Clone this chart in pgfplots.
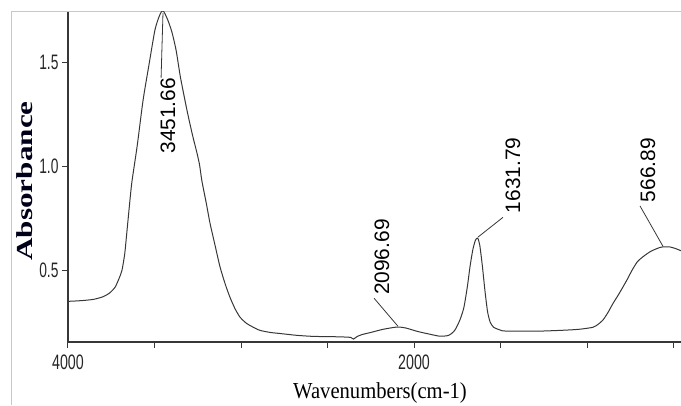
\documentclass[border=0pt]{standalone}
\usepackage{fontspec}
\setmainfont{Liberation Sans}
\newfontfamily\serifb{Liberation Serif}
\usepackage{pgfplots}
\pgfplotsset{compat=1.18}
\definecolor{axc}{RGB}{55,55,55}
\definecolor{frc}{RGB}{200,200,200}
\begin{document}
\begin{tikzpicture}[x=1bp,y=1bp]
\useasboundingbox (0,0) rectangle (681,405);
\draw[frc, line width=1bp] (11,0) -- (11,393) -- (681,393);
\begin{axis}[
  at={(68bp,63bp)}, anchor=south west,
  scale only axis, width=613bp, height=330bp,
  x dir=reverse,
  xmin=457, xmax=4000, ymin=0.154, ymax=1.745,
  axis x line*=bottom, axis y line*=left,
  axis line style={-, line width=2.2bp, color=axc},
  tick style={line width=1bp, color=axc},
  tick align=outside,
  major tick length=6bp,
  xtick={500,1000,1500,2000,2500,3000,3500,4000},
  xticklabels={,,,\scalebox{0.68}[1]{2000},,,,\scalebox{0.68}[1]{4000}},
  ytick={0.5,1.0,1.5},
  yticklabels={\scalebox{0.66}[1]{0.5},\scalebox{0.66}[1]{1.0},\scalebox{0.66}[1]{1.5}},
  ticklabel style={font=\fontsize{21}{21}\selectfont, text=black!85},
  xticklabel style={yshift=-3bp},
  yticklabel style={xshift=0bp},
  xlabel={\scalebox{0.9}[1]{\serifb\fontsize{23}{23}\selectfont Wavenumbers(cm-1)}},
  xlabel style={at={(axis description cs:0.509,-0.155)}, anchor=center, inner sep=0pt},
  ylabel={\scalebox{1.36}[1]{\serifb\bfseries\fontsize{23}{23}\selectfont Absorbance}},
  ylabel style={at={(axis description cs:-0.0701,0.488)}, anchor=center, inner sep=0pt, rotate=0, text=black!90!blue},
  clip=true,
]
\addplot[color=axc, line width=1bp, smooth, tension=0.4] coordinates {
(4000,0.350) (3950,0.352) (3900,0.355) (3850,0.360) (3798,0.372) (3760,0.39)
(3728,0.418) (3705,0.46) (3688,0.50) (3672,0.58) (3659,0.69) (3642,0.837)
(3630,0.93) (3600,1.10)
(3566,1.32) (3530,1.50) (3497,1.66) (3470,1.73) (3451,1.752) (3425,1.71)
(3400,1.65) (3375,1.56) (3350,1.43) (3312,1.27) (3280,1.15) (3256,1.07)
(3240,1.01) (3226,0.93) (3200,0.82) (3179,0.726) (3150,0.62) (3121,0.515)
(3090,0.43) (3064,0.37) (3035,0.315) (3006,0.274) (2970,0.245) (2931,0.226)
(2890,0.21) (2830,0.2) (2775,0.195) (2676,0.186)
(2580,0.181) (2486,0.18) (2400,0.178) (2365,0.176) (2350,0.168) (2330,0.18)
(2300,0.19) (2250,0.2) (2180,0.215) (2100,0.226) (2050,0.222) (1980,0.205)
(1900,0.19) (1850,0.182) (1800,0.186) (1765,0.21) (1735,0.26) (1712,0.32)
(1692,0.42) (1676,0.52) (1660,0.60) (1645,0.645) (1632,0.655) (1620,0.62)
(1605,0.52) (1590,0.40) (1575,0.30) (1560,0.25) (1540,0.225) (1503,0.212)
(1474,0.207) (1300,0.206) (1156,0.21) (1050,0.215) (966,0.225) (935,0.24)
(908,0.26) (880,0.295) (850,0.34) (820,0.38) (792,0.42) (765,0.46)
(740,0.50) (710,0.54) (677,0.565) (630,0.592) (578,0.61) (550,0.613)
(520,0.612) (490,0.605) (463,0.596) (457,0.594)
};
\draw[axc, line width=0.8bp] (axis cs:3451,1.74) -- (axis cs:3462,1.428);
\draw[axc, line width=0.8bp] (axis cs:2231,0.365) -- (axis cs:2093,0.23);
\draw[axc, line width=0.8bp] (axis cs:1486,0.755) -- (axis cs:1630,0.66);
\draw[axc, line width=0.8bp] (axis cs:694,0.81) -- (axis cs:561,0.615);
\node[rotate=90, anchor=east, inner sep=0pt, font=\fontsize{21}{21}\selectfont] at (axis cs:3422,1.428) {3451.66};
\node[rotate=90, anchor=west, inner sep=0pt, font=\fontsize{21}{21}\selectfont] at (axis cs:2185,0.38) {2096.69};
\node[rotate=90, anchor=west, inner sep=0pt, font=\fontsize{21}{21}\selectfont] at (axis cs:1428,0.774) {1631.79};
\node[rotate=90, anchor=west, inner sep=0pt, font=\fontsize{21}{21}\selectfont] at (axis cs:648,0.827) {566.89};
\end{axis}
\end{tikzpicture}
\end{document}
